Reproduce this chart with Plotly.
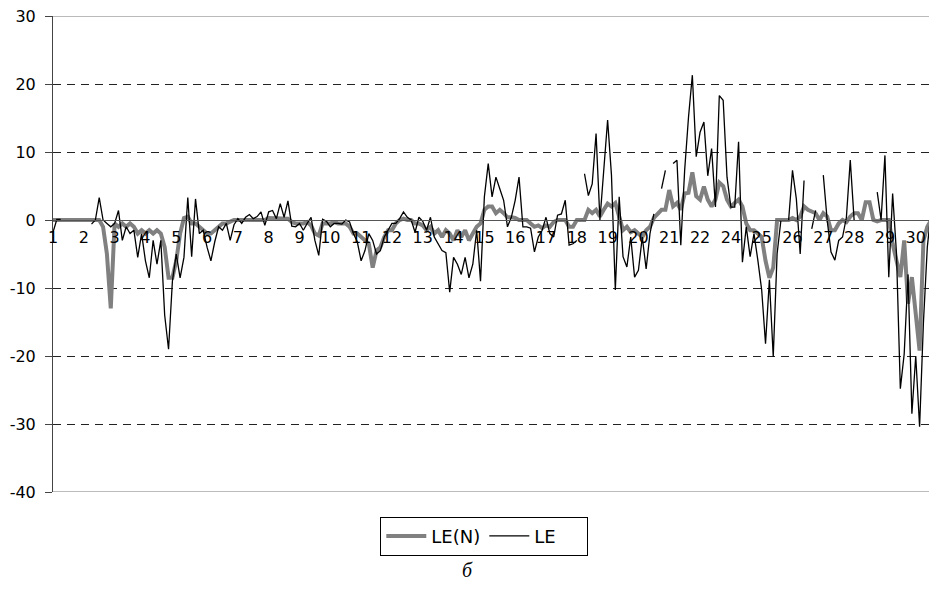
import plotly.graph_objects as go

# Category tick labels (day numbers shown every 8 points; "23" is skipped in the original)
TICK_LABELS = ["1", "2", "3", "4", "5", "6", "7", "8", "9", "10", "11", "12", "13", "14", "15",
               "16", "17", "18", "19", "20", "21", "22", "24", "25", "26", "27", "28", "29", "30"]
POINTS_PER_LABEL = 8
Y_TICKS = [-40, -30, -20, -10, 0, 10, 20, 30]
Y_TICK_TEXT = ["-40", "-30", "-20", "-10", "0", "10", "20", "30"]

# LE(N) series (grey, thick)
LE_N = [
    0, 0, 0, 0, 0, 0, 0, 0,
    0, 0, 0, 0, 0, -1, -5, -13,
    -0.5, -1, -0.5, -1, -0.5, -1, -2, -1.5,
    -2, -1.5, -2, -1.5, -2, -4, -8.5, -8.5,
    -6, -2, 0.3, 0.5, -0.5, -0.5, -1, -1.5,
    -2, -2, -1.5, -1, -0.5, -0.5, -0.3, 0,
    0, 0, 0, 0, 0, 0, 0, 0,
    0.3, 0.3, 0.3, 0.3, 0.3, 0.2, -0.3, -0.5,
    -0.5, -0.5, -0.3, -0.8, -2, -2.3, -0.5, -0.5,
    -0.5, -0.3, -0.5, -0.5, -0.5, -1, -2, -2,
    -2.5, -3, -3.5, -7, -4.5, -4, -2.5, -1.5,
    -1.5, -0.5, 0, 0.2, 0, 0, -0.5, -0.5,
    -0.8, -1.5, -1, -2, -1.5, -2.5, -1.5, -2,
    -3, -1.5, -2.5, -1.5, -3, -2, -1, -0.5,
    1.5, 2, 2, 1, 1.5, 1, 0.4, 0.4,
    0.3, 0, 0, 0, -0.5, -1, -0.8, -1.2,
    -0.8, -1, -0.3, 0, 0, 0, -1, -1,
    0, 0, 0, 1.5, 1, 1.5, 0.5, 1.5,
    2.4, 2, 2.5, 0.5, -1.5, -1, -1.8, -1.5,
    -2, -2.5, -1.5, -1, 0.3, 1, 1.5, 1.5,
    4.4, 2, 2.5, 1.5, 3.9, 4, 7, 3.5,
    3, 4.9, 3, 2, 3, 5.5, 5, 3,
    2, 2.5, 3, 2, -0.5, -1.5, -1.5, -2,
    -2.5, -6, -8.5, -7, 0, 0, 0, 0,
    0.3, 0, 0.5, 2, 1.5, 1.2, 1, 0,
    1, 0.5, -1.5, -1.5, -0.5, 0, -0.3, 0.5,
    1, 1, 0, 2.6, 2.6, 0, -0.2, 0,
    0, 0, -3.5, -6, -8.4, -3, -12.3, -8.4,
    -13.8, -19.2, -3, -1, 0, 0.5,
]

# LE series (black, thin); None = missing value
LE = [
    -1.8, 0.1, 0.1, None, None, None, None, None,
    None, None, -0.6, 0, 3.3, 0, -0.5, -1,
    -0.5, 1.4, -3, -1, -2, -1.5, -5.5, -2,
    -6, -8.5, -3, -6.5, -3, -14, -19, -9,
    -5, -8.5, -5.5, 3.3, -5.4, 3.1, -2, -1.5,
    -4, -6, -3.2, -1, -1.5, -0.5, -3, -0.7,
    0.2, -0.5, 0.4, 0.8, 0.2, 0.5, 1.2, -0.8,
    1.2, 1.4, 0.2, 2.4, 0.4, 2.8, -0.9, -1,
    -0.5, -1.5, -0.5, 0.4, -3, -5.2, 0.1, -0.2,
    -1, -0.5, -0.5, -0.6, 0, -0.3, -2, -3.2,
    -6, -4.5, -2, -3, -5, -4.5, -2.5, -1.5,
    -0.5, -0.5, 0.2, 1.2, 0.4, 0, -1.8, 0.4,
    -0.2, -1.5, 0.4, -2.5, -3.5, -4.5, -4.8, -10.6,
    -5.5, -6.5, -8, -5.5, -8.5, -6.5, -1.5, -9,
    3.4, 8.3, 3.4, 6.3, 4.6, 2.9, -1, 0.4,
    2.9, 6.3, -1, -1, -1.2, -4.7, -2.5, -1.5,
    0.4, -2, -2.5, 0.7, 0.9, 2.9, -3.7, -3.5,
    -3, None, 6.8, 3.6, 5.3, 12.7, 0, 7.8,
    14.7, 6.6, -10.3, 3.4, -5.4, -6.9, -2.5, -8.4,
    -7.4, -2.5, -7.2, -2, 0.9, None, 4.6, 7.3,
    None, 8.3, 8.8, -3.7, 7.3, 15.1, 21.3, 9.3,
    12.9, 14.4, 6.5, 10.5, 1.9, 18.3, 17.6, 6.3,
    1.9, 1.9, 11.5, -6.2, -1, -5.4, -2, -5.9,
    -10.3, -18.2, -8.8, -20.1, -5, 0, None, 0,
    7.3, 3.1, -5, 5.8, None, -1.3, 1.4, None,
    6.6, 0, -4.7, -5.9, -3, -2.5, 0.4, 8.8,
    0, None, None, None, None, None, 4.1, 0,
    9.5, -8.4, 3.9, -4.9, -24.8, -19.7, -8, -28.5,
    -20, -30.4, -15, -4, 1.4, -3,
]

Y_MIN, Y_MAX = -40, 30
FONT = "DejaVu Sans"

fig = go.Figure()
fig.add_trace(go.Scatter(
    x=list(range(len(LE_N))), y=LE_N, mode="lines", name="LE(N)",
    line=dict(color="#808080", width=4), connectgaps=False,
))
fig.add_trace(go.Scatter(
    x=list(range(len(LE))), y=LE, mode="lines", name="LE",
    line=dict(color="#000000", width=1.3), connectgaps=False,
))

n = max(len(LE), len(LE_N))
fig.update_layout(
    width=937, height=596,
    margin=dict(l=45, r=10, t=8, b=112),
    paper_bgcolor="white", plot_bgcolor="white",
    font=dict(family=FONT, size=16, color="black"),
    xaxis=dict(
        range=[0, n - 1],
        tickmode="array",
        tickvals=[POINTS_PER_LABEL * k for k in range(len(TICK_LABELS))],
        ticktext=TICK_LABELS,
        anchor="free",
        position=(0 - Y_MIN) / (Y_MAX - Y_MIN),
        showline=True, linecolor="#555555", linewidth=1,
        showgrid=False, zeroline=False,
        ticks="", ticklabelstandoff=3,
        automargin=False, ticklabeloverflow="allow",
        tickfont=dict(family=FONT, size=16, color="black"),
    ),
    yaxis=dict(
        range=[Y_MIN, Y_MAX],
        tickmode="array", tickvals=Y_TICKS, ticktext=Y_TICK_TEXT,
        showgrid=True, gridcolor="#222222", gridwidth=1, griddash="8px,6px",
        zeroline=False,
        showline=True, linecolor="#444444", linewidth=1,
        ticks="outside", ticklen=7, tickcolor="#444444",
        ticklabelstandoff=6,
        automargin=False, ticklabeloverflow="allow",
        tickfont=dict(family=FONT, size=16, color="black"),
    ),
    showlegend=True,
    legend=dict(
        orientation="h", x=0.489, xanchor="center", y=-0.052, yanchor="top",
        bordercolor="black", borderwidth=1, bgcolor="white",
        font=dict(family=FONT, size=18, color="black"),
        traceorder="normal", entrywidth=48, itemwidth=40,
    ),
)

# solid frame lines at top (30) and bottom (-40)
for yv in (Y_MAX, Y_MIN):
    fig.add_shape(type="line", xref="paper", yref="y", x0=0, x1=1, y0=yv, y1=yv,
                  line=dict(color="#777777", width=1), layer="above")

fig.add_annotation(
    text="<i>б</i>", xref="paper", yref="paper", x=0.47, y=-0.163, yanchor="middle",
    showarrow=False, font=dict(family="Liberation Serif", size=20, color="black"),
)

fig.write_html("out.html")
